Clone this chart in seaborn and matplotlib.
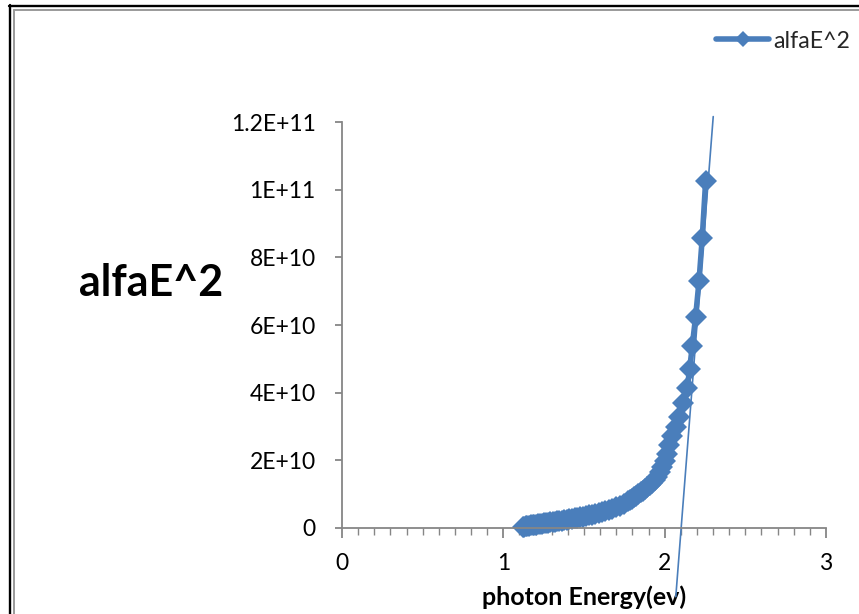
import matplotlib
matplotlib.use("Agg")
import matplotlib.pyplot as plt
import numpy as np
import pandas as pd
import seaborn as sns
from matplotlib.lines import Line2D
from matplotlib.ticker import MultipleLocator

# ---------------- data ----------------
# photon energy (eV)
energy = [1.122, 1.127, 1.138, 1.148, 1.159, 1.170, 1.181, 1.192, 1.204, 1.216,
          1.228, 1.240, 1.253, 1.265, 1.278, 1.292, 1.305, 1.319, 1.333, 1.348,
          1.363, 1.378, 1.393, 1.409, 1.425, 1.442, 1.459, 1.476, 1.494, 1.512,
          1.531, 1.550, 1.570, 1.590, 1.610, 1.632, 1.653, 1.676, 1.699, 1.722,
          1.746, 1.771, 1.784, 1.797, 1.810, 1.823, 1.837, 1.851, 1.865, 1.879,
          1.893, 1.908, 1.922, 1.937, 1.953, 1.968, 1.984, 2.000, 2.013, 2.027,
          2.048, 2.069, 2.089, 2.114, 2.140, 2.155, 2.171, 2.192, 2.213, 2.233,
          2.254]
# (alpha*E)^2 in units of 1E+10
alfa_e2 = [0.02, 0.04, 0.05, 0.06, 0.07, 0.075, 0.08, 0.09, 0.10, 0.11,
           0.12, 0.13, 0.14, 0.15, 0.16, 0.17, 0.18, 0.19, 0.20, 0.21,
           0.22, 0.23, 0.245, 0.26, 0.275, 0.29, 0.305, 0.32, 0.335, 0.35,
           0.37, 0.39, 0.41, 0.435, 0.46, 0.49, 0.53, 0.57, 0.61, 0.66,
           0.72, 0.79, 0.83, 0.87, 0.91, 0.95, 1.00, 1.05, 1.10, 1.16,
           1.22, 1.28, 1.34, 1.42, 1.52, 1.65, 1.80, 1.98, 2.20, 2.45,
           2.72, 2.99, 3.29, 3.69, 4.15, 4.70, 5.38, 6.25, 7.30, 8.58,
           10.26]
# hand-drawn tangent line (extrapolation to the band gap)
tangent_x = [2.069, 2.301]
tangent_y = [-2.03, 12.16]

xtick_vals = [0, 1, 2, 3]
xtick_labels = ["0", "1", "2", "3"]
ytick_vals = [0, 2, 4, 6, 8, 10, 12]
ytick_labels = ["0", "2E+10", "4E+10", "6E+10", "8E+10", "1E+11", "1.2E+11"]

series_name = "alfaE^2"
x_title = "photon Energy(ev)"
y_title = "alfaE^2"

# ---------------- style ----------------
BLUE = "#4a7ebb"
GRAY = "#868686"
W, H = 859, 614

sns.set_style("white")
plt.rcParams["font.family"] = ["Lato", "DejaVu Sans"]

fig = plt.figure(figsize=(W / 100, H / 100), dpi=100)
fig.patch.set_facecolor("white")
ax = fig.add_axes([342 / W, 1 - 528 / H, (826 - 342) / W, (528 - 122) / H])

df = pd.DataFrame({"E": energy, "a": alfa_e2})
sns.lineplot(data=df, x="E", y="a", ax=ax, color=BLUE, marker="D",
             markersize=11, markeredgewidth=0, linewidth=4.0,
             label=series_name, sort=True, clip_on=False)

tdf = pd.DataFrame({"E": tangent_x, "a": tangent_y})
sns.lineplot(data=tdf, x="E", y="a", ax=ax, color=BLUE, linewidth=1.2,
             clip_on=False, legend=False, sort=True)

ax.set_xlim(0, 3)
ax.set_ylim(0, 12)
ax.grid(False)
for s in ["top", "right"]:
    ax.spines[s].set_visible(False)
for s in ["left", "bottom"]:
    ax.spines[s].set_color(GRAY)
    ax.spines[s].set_linewidth(1.3)

ax.set_xticks(xtick_vals, xtick_labels)
ax.set_yticks(ytick_vals, ytick_labels)
ax.xaxis.set_minor_locator(MultipleLocator(0.1))
ax.tick_params(axis="y", which="major", direction="out", length=5, width=1.3,
               color=GRAY, pad=14, labelsize=16.5, left=True, labelcolor="black")
ax.tick_params(axis="x", which="major", direction="out", length=7, width=1.3,
               color=GRAY, pad=11, labelsize=16.5, bottom=True, labelcolor="black")
ax.tick_params(axis="x", which="minor", direction="out", length=5, width=1.0,
               color=GRAY, bottom=True)

ax.set_xlabel(x_title, fontsize=18, fontweight="bold", color="black")
ax.xaxis.label.set_va("center")
ax.xaxis.set_label_coords(0.5, (528 - 597) / 406)
ax.set_ylabel(y_title, fontsize=31, fontweight="bold", color="black",
              rotation=0, ha="center", va="center")
ax.yaxis.set_label_coords((151 - 342) / 484, (528 - 283) / 406)

ax.legend(loc="center left", bbox_to_anchor=(716 / W, 1 - 41 / H),
          bbox_transform=fig.transFigure, frameon=False, fontsize=16.7,
          handlelength=2.3, markerscale=0.72, borderpad=0, borderaxespad=0,
          handletextpad=0.15)

# outer chart frame (double line, as in the reference)
fig.add_artist(Line2D([10.2 / W, 10.2 / W], [0, 1 - 5 / H], color="black",
                      linewidth=1.7, transform=fig.transFigure))
fig.add_artist(Line2D([9 / W, 1], [1 - 6 / H, 1 - 6 / H], color="black",
                      linewidth=1.7, transform=fig.transFigure))
fig.add_artist(Line2D([14.3 / W, 14.3 / W], [0, 1 - 9.5 / H], color="#9a9a9a",
                      linewidth=1.4, transform=fig.transFigure))
fig.add_artist(Line2D([13.5 / W, 1], [1 - 10 / H, 1 - 10 / H], color="#9a9a9a",
                      linewidth=1.4, transform=fig.transFigure))

fig.savefig("out.png", dpi=100, facecolor="white")
